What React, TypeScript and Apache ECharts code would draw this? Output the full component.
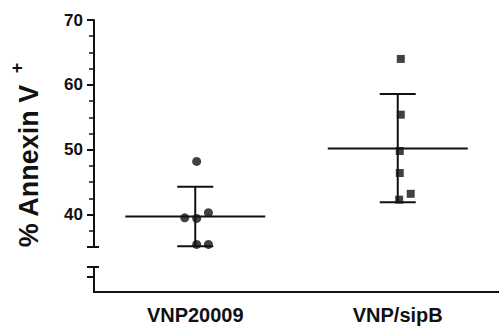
import { useEffect, useRef } from 'react';
import * as echarts from 'echarts';

const categories = ['VNP20009', 'VNP/sipB'];
const groupX = [1, 2];
const vnpX = [1.007, 0.948, 1.007, 1.065, 1.007, 1.065];
const vnpY = [48.2, 39.5, 39.4, 40.3, 35.4, 35.4];
const sipBX = [2.015, 2.015, 2.01, 2.01, 2.064, 2.007];
const sipBY = [64.0, 55.4, 49.8, 46.4, 43.2, 42.3];
const means = [39.7, 50.2];
const lowers = [35.1, 41.9];
const uppers = [44.3, 58.6];
const majorTicks = [40, 50, 60, 70];
const minorTicks = [37.5, 42.5, 45, 47.5, 52.5, 55, 57.5, 62.5, 65, 67.5];
const breakTop = 35;
const lowerMax = 4;
const lowerTicks = [2.5];

const INK = '#111';
const FONT = '"Liberation Sans", Arial, Helvetica, sans-serif';

export default function App() {
  const ref = useRef<HTMLDivElement>(null);
  useEffect(() => {
    if (!ref.current) return;
    const chart = echarts.init(ref.current, undefined, { renderer: 'svg' });
    const line = { color: INK, width: 2 };
    const option: any = {
      animation: false,
      backgroundColor: '#fff',
      grid: [
        { left: 94, right: -9, top: 20, height: 227 },
        { left: 94, right: -9, top: 267, height: 25 },
      ],
      xAxis: [
        { gridIndex: 0, type: 'value', min: 0.5, max: 2.5, show: false },
        {
          gridIndex: 1, type: 'value', min: 0.5, max: 2.5,
          axisLine: { show: true, onZero: false, lineStyle: line },
          axisTick: { show: false },
          splitLine: { show: false },
          axisLabel: {
            customValues: groupX,
            formatter: (v: number) => categories[Math.round(v) - 1] ?? '',
            fontSize: 20, fontWeight: 'bold', color: INK, fontFamily: FONT, margin: 13,
          },
        },
      ],
      yAxis: [
        {
          gridIndex: 0, type: 'value', min: breakTop, max: 70, position: 'left',
          axisLine: { show: true, onZero: false, lineStyle: line },
          axisTick: { show: true, customValues: [breakTop, ...majorTicks], length: 7, lineStyle: line },
          axisLabel: { customValues: majorTicks, fontSize: 17, fontWeight: 'bold', color: INK, fontFamily: FONT, margin: 11 },
          splitLine: { show: false },
        },
        {
          gridIndex: 0, type: 'value', min: breakTop, max: 70, position: 'left',
          axisLine: { show: false, onZero: false },
          axisTick: { show: true, customValues: minorTicks, length: 5, lineStyle: { color: INK, width: 1.5 } },
          axisLabel: { show: false },
          splitLine: { show: false },
        },
        {
          gridIndex: 0, type: 'value', min: breakTop, max: 70, position: 'left',
          axisLine: { show: false, onZero: false },
          axisTick: { show: true, inside: true, customValues: [breakTop], length: 5, lineStyle: line },
          axisLabel: { show: false },
          splitLine: { show: false },
        },
        {
          gridIndex: 1, type: 'value', min: 0, max: lowerMax, position: 'left',
          axisLine: { show: true, onZero: false, lineStyle: line },
          axisTick: { show: true, customValues: [lowerMax, ...lowerTicks], length: 7, lineStyle: line },
          axisLabel: { show: false },
          splitLine: { show: false },
        },
        {
          gridIndex: 1, type: 'value', min: 0, max: lowerMax, position: 'left',
          axisLine: { show: false, onZero: false },
          axisTick: { show: true, inside: true, customValues: [lowerMax], length: 5, lineStyle: line },
          axisLabel: { show: false },
          splitLine: { show: false },
        },
      ],
      series: [
        {
          type: 'custom',
          xAxisIndex: 0,
          yAxisIndex: 0,
          z: 1,
          data: groupX.map((x, i) => [x, means[i], lowers[i], uppers[i]]),
          renderItem: (_params: any, api: any) => {
            const x = api.value(0);
            const pm = api.coord([x, api.value(1)]);
            const pl = api.coord([x, api.value(2)]);
            const ph = api.coord([x, api.value(3)]);
            const st = { stroke: INK, lineWidth: 2 };
            const mh = 70;
            const ch = 18;
            return {
              type: 'group',
              children: [
                { type: 'line', shape: { x1: pm[0] - mh, y1: pm[1], x2: pm[0] + mh, y2: pm[1] }, style: st },
                { type: 'line', shape: { x1: pl[0], y1: pl[1], x2: ph[0], y2: ph[1] }, style: st },
                { type: 'line', shape: { x1: ph[0] - ch, y1: ph[1], x2: ph[0] + ch, y2: ph[1] }, style: st },
                { type: 'line', shape: { x1: pl[0] - ch, y1: pl[1], x2: pl[0] + ch, y2: pl[1] }, style: st },
              ],
            };
          },
        },
        {
          type: 'scatter',
          xAxisIndex: 0,
          yAxisIndex: 0,
          z: 3,
          symbol: 'circle',
          symbolSize: 9,
          itemStyle: { color: INK },
          data: vnpX.map((x, i) => [x, vnpY[i]]),
        },
        {
          type: 'scatter',
          xAxisIndex: 0,
          yAxisIndex: 0,
          z: 3,
          symbol: 'rect',
          symbolSize: 8,
          itemStyle: { color: INK },
          data: sipBX.map((x, i) => [x, sipBY[i]]),
        },
      ],
      graphic: [
        {
          type: 'text',
          x: 29,
          y: 166,
          rotation: Math.PI / 2,
          style: {
            text: '% Annexin V',
            fontSize: 27,
            fontWeight: 'bold',
            fontFamily: FONT,
            fill: INK,
            align: 'center',
            verticalAlign: 'middle',
          },
        },
        {
          type: 'text',
          x: 17,
          y: 68,
          rotation: Math.PI / 2,
          style: {
            text: '+',
            fontSize: 18,
            fontWeight: 'bold',
            fontFamily: FONT,
            fill: INK,
            align: 'center',
            verticalAlign: 'middle',
          },
        },
      ],
    };
    chart.setOption(option);
    return () => chart.dispose();
  }, []);
  return (
    <div
      ref={ref}
      style={{ position: 'fixed', left: 0, top: 0, width: 499, height: 332, background: '#fff' }}
    />
  );
}
